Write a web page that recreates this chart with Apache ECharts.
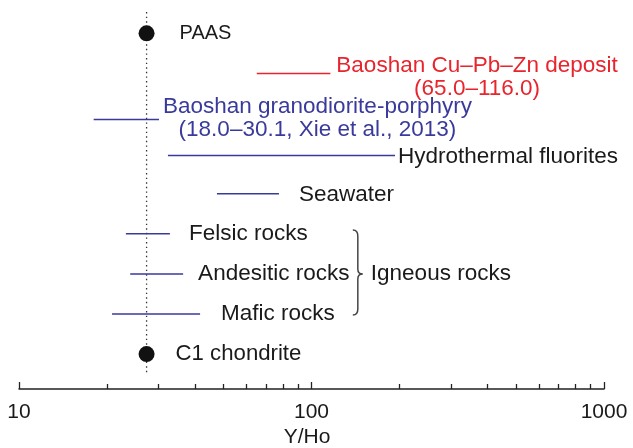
<!DOCTYPE html>
<html>
<head>
<meta charset="utf-8">
<script src="https://cdn.jsdelivr.net/npm/echarts@6/dist/echarts.min.js"></script>
<style>
  html, body { margin: 0; padding: 0; background: #fff; }
  #chart { width: 633px; height: 448px; }
</style>
</head>
<body>
<div id="chart"></div>
<script>
// Reference reservoirs (single Y/Ho values, drawn as dots)
const refNames = ['PAAS', 'C1 chondrite'];
const refValues = [27.3, 27.3];
const refRows = [0, 8];

// Y/Ho ranges (drawn as horizontal bars)
const rangeNames = [
  'Baoshan Cu–Pb–Zn deposit',
  'Baoshan granodiorite-porphyry',
  'Hydrothermal fluorites',
  'Seawater',
  'Felsic rocks',
  'Andesitic rocks',
  'Mafic rocks'
];
const rangeSubtitles = ['(65.0–116.0)', '(18.0–30.1, Xie et al., 2013)', '', '', '', '', ''];
const rangeLow = [65.0, 18.0, 32.3, 47.5, 23.2, 24.0, 20.8];
const rangeHigh = [116.0, 30.1, 193, 77.4, 32.8, 36.4, 41.6];
const rangeRows = [1, 2.15, 3.05, 4, 5, 6, 7];

// Axis ticks
const majorTicks = [10, 100, 1000];
const minorTicks = [20, 30, 40, 50, 60, 70, 80, 90, 200, 300, 400, 500, 600, 700, 800, 900];

// Vertical guide through the reference values, and the igneous-rock group
const guideRows = [-0.53, 8.47];
const igneousRows = [4.906, 6.0, 7.027];
const igneousLabel = 'Igneous rocks';

const FONT = '"Liberation Sans", Arial, Helvetica, sans-serif';
const INK = '#1a1a1a';
const BLUE = '#3a3a9c';
const RED = '#e8242c';

const chart = echarts.init(document.getElementById('chart'));

const series = [];

// dotted guide line
series.push({
  type: 'line',
  silent: true,
  symbol: 'none',
  data: guideRows.map(r => [refValues[0], r]),
  lineStyle: { color: '#333', width: 1.3, type: [1.4, 3.2] },
  z: 1
});

// range bars with their labels
const labelGap = [6, 4, 3, 20, 19, 15, 21];
const labelShift = [4, -1, 1, 1, 0, 0, 0];
rangeNames.forEach((name, i) => {
  const color = i === 0 ? RED : BLUE;
  const textColor = i < 2 ? color : INK;
  const sub = rangeSubtitles[i];
  series.push({
    type: 'line',
    silent: true,
    symbol: 'none',
    data: [[rangeLow[i], rangeRows[i]], [rangeHigh[i], rangeRows[i]]],
    lineStyle: { color: color, width: 1.5 },
    endLabel: {
      show: true,
      distance: labelGap[i],
      offset: [0, labelShift[i]],
      formatter: sub ? '{a|' + name + '}\n{a|' + sub + '}' : name,
      color: textColor,
      fontFamily: FONT,
      fontSize: 22.5,
      rich: sub ? {
        a: { align: 'center', color: textColor, fontFamily: FONT, fontSize: 22.5, lineHeight: 23 }
      } : undefined
    },
    z: 2
  });
});

// reference dots
series.push({
  type: 'scatter',
  silent: true,
  symbol: 'circle',
  symbolSize: 16,
  itemStyle: { color: '#111', opacity: 1 },
  data: refNames.map((n, i) => ({
    value: [refValues[i], refRows[i]],
    label: {
      show: true,
      position: 'right',
      distance: i === 0 ? 25 : 21,
      formatter: n,
      color: INK,
      opacity: 1,
      textBorderWidth: 0,
      fontFamily: FONT,
      fontSize: i === 0 ? 20 : 22.2
    }
  })),
  z: 3
});

const gridBox = { left: 19, right: 29, top: 0, bottom: 59, outerBoundsMode: 'none' };
const xBase = { type: 'log', logBase: 10, min: 10, max: 1000, position: 'bottom', splitLine: { show: false }, minorTick: { show: false } };
const yBase = { type: 'value', min: -0.83, max: 8.87, inverse: true, show: false };

chart.setOption({
  animation: false,
  backgroundColor: '#fff',
  // second grid is an identical overlay carrying the shorter minor ticks
  grid: [Object.assign({}, gridBox), Object.assign({}, gridBox)],
  xAxis: [
    Object.assign({}, xBase, {
      gridIndex: 0,
      name: 'Y/Ho',
      nameLocation: 'middle',
      nameGap: 38,
      nameMoveOverlap: false,
      nameTextStyle: { fontFamily: FONT, fontSize: 21, color: INK, padding: [0, 9, 0, 0] },
      axisLine: { show: true, onZero: false, lineStyle: { color: '#222', width: 1.5 } },
      axisTick: { show: true, inside: true, length: 7, customValues: majorTicks, lineStyle: { color: '#222', width: 1.3 } },
      axisLabel: { customValues: majorTicks, formatter: v => String(v), fontFamily: FONT, fontSize: 21, color: INK, margin: 13 }
    }),
    Object.assign({}, xBase, {
      gridIndex: 1,
      axisLine: { show: false, onZero: false },
      axisTick: { show: true, inside: true, length: 5, customValues: minorTicks, lineStyle: { color: '#222', width: 1.3 } },
      axisLabel: { show: false }
    })
  ],
  yAxis: [Object.assign({ gridIndex: 0 }, yBase), Object.assign({ gridIndex: 1 }, yBase)],
  series: series
});

// curly brace grouping the igneous rocks, placed through the axes
const braceValue = 144;
const toPx = r => chart.convertToPixel({ xAxisIndex: 0, yAxisIndex: 0 }, [braceValue, r]);
const pTop = toPx(igneousRows[0]), pMid = toPx(igneousRows[1]), pBot = toPx(igneousRows[2]);
const bx = pTop[0], yT = pTop[1], yM = pMid[1], yB = pBot[1];
const braceStyle = { stroke: '#444', fill: null, lineWidth: 1.5 };
const curve = (x1, y1, c1x, c1y, c2x, c2y, x2, y2) => ({
  type: 'bezierCurve', silent: true,
  shape: { x1: x1, y1: y1, cpx1: c1x, cpy1: c1y, cpx2: c2x, cpy2: c2y, x2: x2, y2: y2 },
  style: braceStyle
});
const seg = (x1, y1, x2, y2) => ({
  type: 'line', silent: true,
  shape: { x1: x1, y1: y1, x2: x2, y2: y2 },
  style: braceStyle
});

chart.setOption({
  graphic: [
    curve(bx - 5, yT, bx - 1.5, yT, bx, yT + 2, bx, yT + 6),
    seg(bx, yT + 6, bx, yM - 5),
    curve(bx, yM - 5, bx, yM - 2, bx + 2, yM, bx + 4.7, yM),
    curve(bx + 4.7, yM, bx + 2, yM, bx, yM + 2, bx, yM + 5),
    seg(bx, yM + 5, bx, yB - 6),
    curve(bx, yB - 6, bx, yB - 2, bx - 1.5, yB, bx - 5, yB),
    {
      type: 'text',
      silent: true,
      x: bx + 13,
      y: yM,
      style: {
        text: igneousLabel,
        fill: INK,
        font: '22.5px ' + FONT,
        verticalAlign: 'middle',
        align: 'left'
      }
    }
  ]
});
</script>
</body>
</html>
